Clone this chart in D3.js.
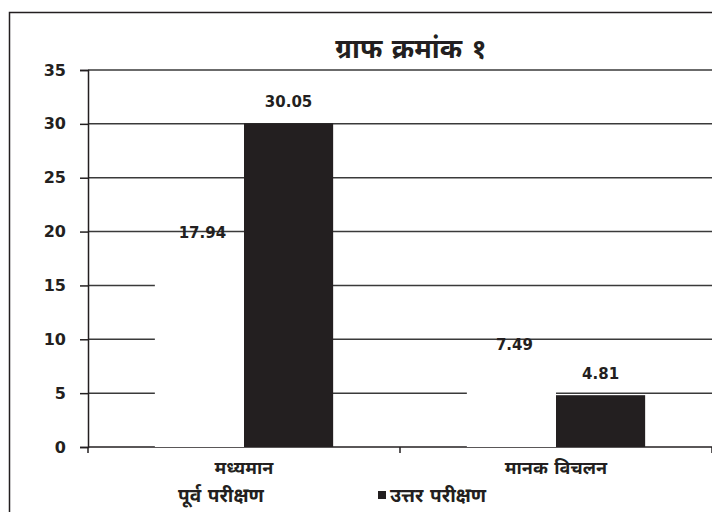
<!DOCTYPE html>
<html>
<head>
<meta charset="utf-8">
<script src="https://cdn.jsdelivr.net/npm/d3@7/dist/d3.min.js"></script>
<style>
  body { margin: 0; background: #fff; }
  svg { display: block; }
  text { font-family: "DejaVu Sans", "Noto Sans", "Noto Sans Devanagari", sans-serif; font-weight: bold; fill: #231f20; }
</style>
</head>
<body>
<svg id="chart" width="712" height="512"></svg>
<script>
const title = "ग्राफ क्रमांक १";
const categories = ["मध्यमान", "मानक विचलन"];
const seriesNames = ["पूर्व परीक्षण", "उत्तर परीक्षण"];
const preTest = [17.94, 7.49];
const postTest = [30.05, 4.81];
const yTicks = [0, 5, 10, 15, 20, 25, 30, 35];

const svg = d3.select("#chart");
const W = 712, H = 512;
const m = { left: 88, right: 0, top: 70, bottom: 65 };

// outer border
svg.append("rect").attr("x", 9.5).attr("y", 12.5).attr("width", W + 10).attr("height", H + 10)
  .attr("fill", "none").attr("stroke", "#231f20").attr("stroke-width", 1.5);

const x0 = d3.scaleBand().domain(categories).range([m.left, W]).paddingInner(0).paddingOuter(0);
const x1 = d3.scaleBand().domain(seriesNames).range([0, x0.bandwidth()]).paddingInner(0).paddingOuter(0.75);
const y = d3.scaleLinear().domain([0, 35]).range([H - m.bottom, m.top]);

// gridlines
svg.append("g").selectAll("line").data(yTicks.filter(d => d > 0)).join("line")
  .attr("x1", m.left).attr("x2", W).attr("y1", d => y(d)).attr("y2", d => y(d))
  .attr("stroke", "#3a3a3a").attr("stroke-width", 1.5);

// y axis
const yAxis = d3.axisLeft(y).tickValues(yTicks).tickSize(8).tickPadding(14);
const gy = svg.append("g").attr("transform", `translate(${m.left},0)`).call(yAxis);
gy.select(".domain").attr("stroke", "#231f20").attr("stroke-width", 1.5);
gy.selectAll(".tick line").attr("stroke", "#231f20").attr("stroke-width", 1.5);
gy.selectAll("text").attr("font-size", 16).attr("fill", "#231f20")
  .style("font-family", '"DejaVu Sans", sans-serif').style("font-weight", "bold");

// x axis
const gx = svg.append("g").attr("transform", `translate(0,${y(0)})`);
gx.append("line").attr("x1", m.left).attr("x2", W).attr("stroke", "#231f20").attr("stroke-width", 1.5);
const xBounds = [m.left, ...categories.map(c => x0(c) + x0.bandwidth())];
gx.selectAll(".xt").data(xBounds).join("line").attr("class", "xt")
  .attr("x1", d => d).attr("x2", d => d).attr("y1", 0).attr("y2", 6)
  .attr("stroke", "#231f20").attr("stroke-width", 1.5);
gx.selectAll(".xl").data(categories).join("text").attr("class", "xl")
  .attr("x", d => x0(d) + x0.bandwidth() / 2).attr("y", 27)
  .attr("text-anchor", "middle").attr("font-size", 18).text(d => d);

// bars
const rows = categories.map((c, i) => ({ cat: c, vals: [preTest[i], postTest[i]] }));
const fills = ["#ffffff", "#231f20"];
const g = svg.append("g");
rows.forEach(r => {
  r.vals.forEach((v, j) => {
    const bx = x0(r.cat) + x1(seriesNames[j]);
    g.append("rect").attr("x", bx).attr("y", y(v))
      .attr("width", x1.bandwidth()).attr("height", y(0) - y(v))
      .attr("fill", fills[j]);
    g.append("text").attr("x", bx + x1.bandwidth() / 2 + (j === 0 ? 3 : 0)).attr("y", y(v) - 16)
      .attr("text-anchor", "middle").attr("font-size", 15).text(v.toFixed(2));
  });
});

// title
svg.append("text").attr("x", 411).attr("y", 58).attr("text-anchor", "middle")
  .attr("font-size", 27).text(title);

// legend
const lg = svg.append("g").attr("transform", `translate(0, ${H - 10})`);
lg.append("rect").attr("x", 168).attr("y", -11).attr("width", 8).attr("height", 8).attr("fill", fills[0]);
lg.append("text").attr("x", 178).attr("y", 0).attr("font-size", 19).text(seriesNames[0]);
lg.append("rect").attr("x", 378).attr("y", -11).attr("width", 8).attr("height", 8).attr("fill", fills[1]);
lg.append("text").attr("x", 390).attr("y", 0).attr("font-size", 19).text(seriesNames[1]);
</script>
</body>
</html>
